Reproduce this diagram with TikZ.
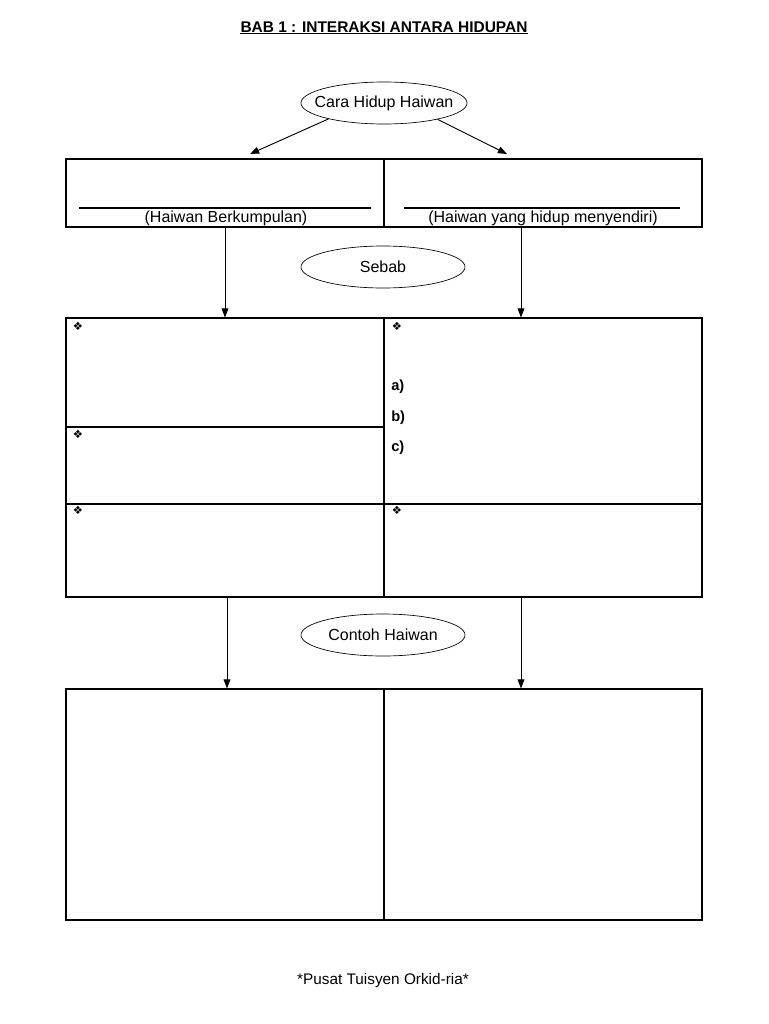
\documentclass[tikz,border=0pt]{standalone}
\usepackage{fontspec}
\setmainfont{Liberation Sans}
\newfontfamily\symfont{DejaVu Sans}
\usetikzlibrary{arrows.meta,shapes.geometric}
\tikzset{
  arr/.style={-{Triangle[length=2.4mm,width=1.8mm]}, line width=0.7pt},
  oval/.style={ellipse, draw, line width=0.5pt, minimum width=123pt, minimum height=31.5pt, inner xsep=-8pt, inner ysep=0pt, font=\fontsize{12}{14}\selectfont},
  cell/.style={draw, line width=0.8pt, inner sep=0pt, minimum width=238.5pt},
  bul/.style={font=\symfont\fontsize{8.5}{9}\selectfont, inner sep=0pt},
  abc/.style={font=\bfseries\fontsize{11}{13}\selectfont, inner sep=0pt, anchor=west},
  blank/.style={line width=1.2pt},
  lbl/.style={font=\fontsize{12}{14}\selectfont, inner sep=0pt},
}
\begin{document}
\begin{tikzpicture}[x=0.75pt,y=-0.75pt]
  \useasboundingbox (0,0) rectangle (768,1024);
  % title
  \node[font=\bfseries\fontsize{11.6}{13}\selectfont, inner sep=0.5pt] (tajuk) at (384,27) {BAB 1 : INTERAKSI ANTARA HIDUPAN};
  \draw[line width=0.8pt] (tajuk.south west) -- (tajuk.south east);

  % cara hidup
  \node[oval] (cara) at (384,103) {Cara Hidup Haiwan};
  \coordinate (kiri) at (250,154);
  \coordinate (kanan) at (507,154);
  \draw[arr] (cara.196) -- (kiri);
  \draw[arr] (cara.343) -- (kanan);

  \node[cell, minimum height=51pt] (kumpul) at (225,193) {};
  \node[cell, minimum height=51pt] (sendiri) at (543,193) {};
  \draw[blank] (79,208) -- (371,208);
  \draw[blank] (404,208) -- (680,208);
  \node[lbl] (lblkumpul) at (226,218) {(Haiwan Berkumpulan)};
  \node[lbl] (lblsendiri) at (543,218) {(Haiwan yang hidup menyendiri)};

  % sebab
  \node[oval] (sebab) at (383,267) {Sebab};
  \node[cell, minimum height=81.75pt] (sa1) at (225,372.5) {};
  \node[cell, minimum height=57.75pt] (sa2) at (225,465.5) {};
  \node[cell, minimum height=69.75pt] (sa3) at (225,550.5) {};
  \node[cell, minimum height=139.5pt] (sb1) at (543,411) {};
  \node[cell, minimum height=69.75pt] (sb2) at (543,550.5) {};
  \draw[arr] (kumpul.south) -- (sa1.north);
  \draw[arr] ([xshift=-16.5pt]sendiri.south) -- ([xshift=-16.5pt]sb1.north);

  \node[bul] (bul1) at (78,326) {❖};
  \node[bul] (bul2) at (397,326) {❖};
  \node[bul] (bul3) at (78,434) {❖};
  \node[bul] (bul4) at (78,510) {❖};
  \node[bul] (bul5) at (397,510) {❖};
  \node[abc] (hura) at (391,387) {a)};
  \node[abc] (hurb) at (391,418) {b)};
  \node[abc] (hurc) at (391,448) {c)};

  % contoh
  \node[oval] (contoh) at (383,635) {Contoh Haiwan};
  \node[cell, minimum height=173.25pt] (ca) at (225,804.5) {};
  \node[cell, minimum height=173.25pt] (cb) at (543,804.5) {};
  \draw[arr] ([xshift=1.5pt]sa3.south) -- ([xshift=1.5pt]ca.north);
  \draw[arr] ([xshift=-16.5pt]sb2.south) -- ([xshift=-16.5pt]cb.north);

  \node[font=\fontsize{11.5}{13}\selectfont] (pusat) at (383,981) {*Pusat Tuisyen Orkid-ria*};
\end{tikzpicture}
\end{document}
